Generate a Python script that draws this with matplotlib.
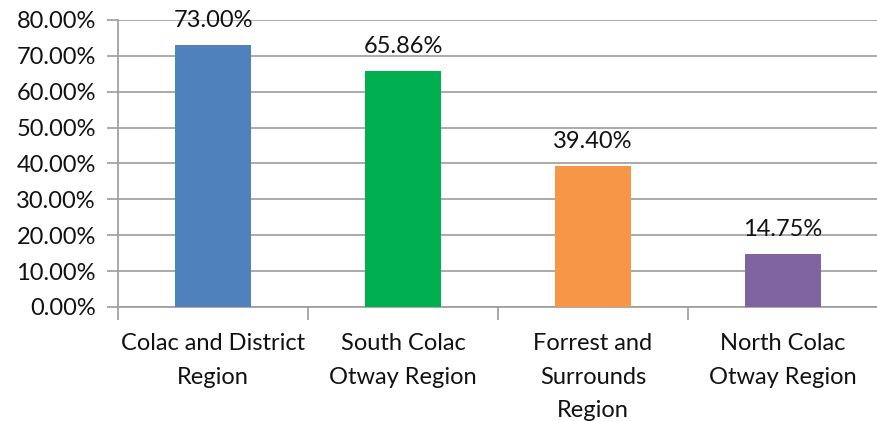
import matplotlib
matplotlib.use("Agg")
import matplotlib.pyplot as plt
from matplotlib.ticker import FuncFormatter, FixedLocator

plt.rcParams['font.family'] = ['Lato', 'DejaVu Sans']

regions = ['Colac and District\nRegion', 'South Colac\nOtway Region',
           'Forrest and\nSurrounds\nRegion', 'North Colac\nOtway Region']
shares = [73.00, 65.86, 39.40, 14.75]
colors = ['#4F81BD', '#00B050', '#F79646', '#8064A2']

fig = plt.figure(figsize=(8.78, 4.21), dpi=100)
ax = fig.add_axes([0.1344, 0.2708, 0.8656, 0.6817])

x = list(range(len(regions)))
bars = ax.bar(x, shares, width=0.405, color=colors, zorder=3)

for rect, val in zip(bars, shares):
    ax.annotate(f'{val:.2f}%', (rect.get_x() + rect.get_width() / 2, val),
                xytext=(0, 10), textcoords='offset points',
                ha='center', va='bottom', fontsize=17, color='#111111')

ax.set_xlim(-0.5, len(regions) - 0.5)
ax.set_ylim(0, 80)
ax.set_yticks(range(0, 81, 10))
ax.yaxis.set_major_formatter(FuncFormatter(lambda v, p: f'{v:.2f}%'))
ax.grid(axis='y', color='#9C9C9C', linewidth=1.2, zorder=0)

# category labels in the middle, tick marks at the boundaries
ax.xaxis.set_major_locator(FixedLocator([i - 0.5 for i in range(len(regions) + 1)]))
ax.xaxis.set_major_formatter(FuncFormatter(lambda v, p: ''))
ax.xaxis.set_minor_locator(FixedLocator(x))
ax.set_xticklabels(regions, minor=True, linespacing=1.72)
ax.tick_params(axis='x', which='major', length=9, width=1.2, color='#9C9C9C')
ax.tick_params(axis='x', which='minor', length=0, pad=19, labelsize=17,
               labelcolor='#111111')
ax.tick_params(axis='y', length=8, width=1.2, color='#9C9C9C', labelsize=17,
               pad=8, labelcolor='#111111')

for side in ['top', 'right']:
    ax.spines[side].set_visible(False)
for side in ['left', 'bottom']:
    ax.spines[side].set_color('#9C9C9C')
    ax.spines[side].set_linewidth(1.2)

fig.savefig('out.png', dpi=100)
